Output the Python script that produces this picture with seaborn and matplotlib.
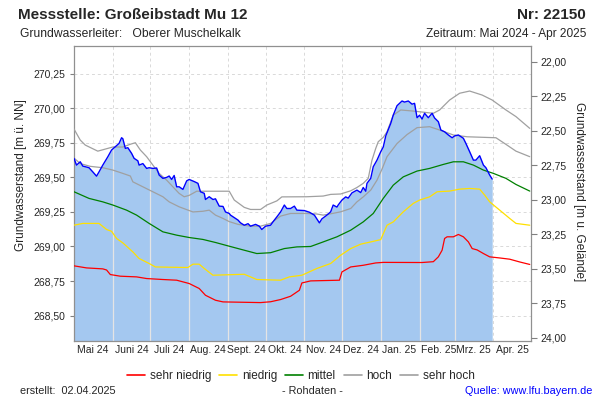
import pandas as pd
import numpy as np
import matplotlib.pyplot as plt
import matplotlib.dates as mdates
from matplotlib.ticker import FuncFormatter, MultipleLocator
from matplotlib.lines import Line2D
import seaborn as sns

# Messwerte (Rohdaten), Grundwasserstand in m ü. NN
mess_datum = [
    "2024-05-01", "2024-05-03", "2024-05-06", "2024-05-08", "2024-05-13", "2024-05-16",
    "2024-05-19", "2024-05-21", "2024-05-24", "2024-05-28", "2024-05-31", "2024-06-03",
    "2024-06-06", "2024-06-08", "2024-06-09", "2024-06-11", "2024-06-13", "2024-06-16",
    "2024-06-18", "2024-06-21", "2024-06-22", "2024-06-25", "2024-06-28", "2024-06-30",
    "2024-07-03", "2024-07-06", "2024-07-08", "2024-07-11", "2024-07-14", "2024-07-16",
    "2024-07-18", "2024-07-20", "2024-07-22", "2024-07-24", "2024-07-27", "2024-07-30",
    "2024-08-01", "2024-08-05", "2024-08-08", "2024-08-10", "2024-08-13", "2024-08-14",
    "2024-08-17", "2024-08-20", "2024-08-22", "2024-08-25", "2024-08-28", "2024-08-30",
    "2024-09-02", "2024-09-03", "2024-09-09", "2024-09-11", "2024-09-14", "2024-09-17",
    "2024-09-19", "2024-09-23", "2024-09-26", "2024-09-28", "2024-10-01", "2024-10-05",
    "2024-10-08", "2024-10-10", "2024-10-13", "2024-10-16", "2024-10-18", "2024-10-21",
    "2024-10-24", "2024-10-26", "2024-11-01", "2024-11-05", "2024-11-09", "2024-11-13",
    "2024-11-15", "2024-11-19", "2024-11-22", "2024-11-24", "2024-11-27", "2024-11-28",
    "2024-12-01", "2024-12-04", "2024-12-06", "2024-12-09", "2024-12-13", "2024-12-16",
    "2024-12-18", "2024-12-20", "2024-12-21", "2024-12-24", "2024-12-26", "2024-12-29",
    "2025-01-01", "2025-01-03", "2025-01-05", "2025-01-09", "2025-01-11", "2025-01-14",
    "2025-01-18", "2025-01-20", "2025-01-23", "2025-01-26", "2025-01-28", "2025-01-30",
    "2025-02-01", "2025-02-03", "2025-02-05", "2025-02-08", "2025-02-11", "2025-02-13",
    "2025-02-16", "2025-02-18", "2025-02-21", "2025-02-24", "2025-02-27", "2025-03-01",
    "2025-03-04", "2025-03-08", "2025-03-10", "2025-03-13", "2025-03-16", "2025-03-18",
    "2025-03-21", "2025-03-24", "2025-03-26", "2025-03-29", "2025-03-31",
]
mess_wert = [
    269.638, 269.589, 269.613, 269.582, 269.570, 269.540,
    269.509, 269.540, 269.589, 269.649, 269.698, 269.722,
    269.746, 269.787, 269.780, 269.710, 269.715, 269.674,
    269.638, 269.620, 269.589, 269.600, 269.565, 269.570,
    269.565, 269.568, 269.517, 269.493, 269.500, 269.510,
    269.485, 269.514, 269.432, 269.432, 269.413, 269.475,
    269.485, 269.470, 269.457, 269.396, 269.385, 269.340,
    269.360, 269.340, 269.345, 269.292, 269.290, 269.250,
    269.239, 269.227, 269.191, 269.171, 269.154, 269.165,
    269.147, 269.160, 269.147, 269.123, 269.147, 269.154,
    269.191, 269.214, 269.250, 269.300, 269.275, 269.275,
    269.292, 269.263, 269.260, 269.248, 269.227, 269.171,
    269.200, 269.227, 269.251, 269.300, 269.285, 269.300,
    269.336, 269.359, 269.350, 269.388, 269.408, 269.390,
    269.427, 269.400, 269.457, 269.493, 269.577, 269.625,
    269.686, 269.720, 269.800, 269.891, 269.951, 270.019,
    270.053, 270.045, 270.053, 270.030, 270.036, 269.932,
    269.950, 269.922, 269.964, 269.932, 269.964, 269.930,
    269.903, 269.843, 269.830, 269.807, 269.787, 269.800,
    269.807, 269.783, 269.746, 269.686, 269.625, 269.625,
    269.657, 269.589, 269.570, 269.517, 269.488,
]

# Statistik: sehr hoch
sh_datum = [
    "2024-05-01", "2024-05-06", "2024-05-10", "2024-05-20", "2024-05-24", "2024-06-01",
    "2024-06-09", "2024-06-15", "2024-06-19", "2024-06-23", "2024-06-28", "2024-07-03",
    "2024-07-08", "2024-07-14", "2024-07-19", "2024-07-24", "2024-07-28", "2024-08-01",
    "2024-08-07", "2024-09-02", "2024-09-06", "2024-09-14", "2024-09-19", "2024-09-27",
    "2024-10-02", "2024-10-10", "2024-10-14", "2024-11-03", "2024-11-16", "2024-11-22",
    "2024-11-30", "2024-12-08", "2024-12-13", "2024-12-18", "2024-12-22", "2024-12-25",
    "2024-12-28", "2024-12-30", "2025-01-03", "2025-01-06", "2025-01-11", "2025-01-17",
    "2025-01-27", "2025-02-12", "2025-02-17", "2025-02-25", "2025-03-05", "2025-03-13",
    "2025-03-23", "2025-03-31", "2025-04-11", "2025-04-19", "2025-04-30",
]
sh_wert = [
    269.850, 269.770, 269.734, 269.690, 269.700, 269.720,
    269.720, 269.740, 269.751, 269.698, 269.650, 269.589,
    269.529, 269.480, 269.432, 269.384, 269.360, 269.370,
    269.400, 269.400, 269.336, 269.283, 269.268, 269.268,
    269.300, 269.330, 269.359, 269.360, 269.365, 269.377,
    269.380, 269.403, 269.427, 269.457, 269.493, 269.625,
    269.710, 269.758, 269.790, 269.830, 269.951, 269.988,
    269.980, 269.964, 269.988, 270.060, 270.109, 270.125,
    270.096, 270.060, 269.988, 269.940, 269.855,
]

# Statistik: hoch
h_datum = [
    "2024-05-01", "2024-05-06", "2024-05-14", "2024-05-24", "2024-06-01", "2024-06-09",
    "2024-06-15", "2024-06-17", "2024-06-25", "2024-07-03", "2024-07-11", "2024-07-16",
    "2024-07-24", "2024-08-04", "2024-08-12", "2024-08-17", "2024-08-22", "2024-08-28",
    "2024-09-02", "2024-09-09", "2024-09-19", "2024-09-27", "2024-10-05", "2024-10-13",
    "2024-10-21", "2024-11-03", "2024-11-11", "2024-11-16", "2024-11-24", "2024-11-30",
    "2024-12-08", "2024-12-13", "2024-12-18", "2024-12-24", "2024-12-29", "2025-01-02",
    "2025-01-06", "2025-01-14", "2025-01-22", "2025-01-30", "2025-02-09", "2025-02-17",
    "2025-02-28", "2025-03-11", "2025-04-03", "2025-04-11", "2025-04-19", "2025-04-30",
]
h_wert = [
    269.640, 269.600, 269.580, 269.570, 269.553, 269.529,
    269.510, 269.468, 269.432, 269.396, 269.360, 269.323,
    269.287, 269.250, 269.255, 269.263, 269.227, 269.203,
    269.180, 269.160, 269.147, 269.147, 269.167, 269.220,
    269.239, 269.239, 269.235, 269.227, 269.240, 269.251,
    269.275, 269.323, 269.359, 269.408, 269.480, 269.560,
    269.650, 269.745, 269.810, 269.860, 269.867, 269.843,
    269.807, 269.794, 269.787, 269.739, 269.690, 269.650,
]

# Statistik: mittel
m_datum = [
    "2024-05-01", "2024-05-13", "2024-05-24", "2024-06-01", "2024-06-12", "2024-06-20",
    "2024-06-30", "2024-07-11", "2024-07-22", "2024-08-01", "2024-08-12", "2024-08-22",
    "2024-09-02", "2024-09-09", "2024-09-19", "2024-09-24", "2024-10-05", "2024-10-16",
    "2024-10-26", "2024-11-06", "2024-11-16", "2024-11-27", "2024-12-08", "2024-12-18",
    "2024-12-26", "2025-01-03", "2025-01-11", "2025-01-19", "2025-01-30", "2025-02-09",
    "2025-02-20", "2025-02-28", "2025-03-08", "2025-03-16", "2025-03-24", "2025-04-01",
    "2025-04-11", "2025-04-19", "2025-04-30",
]
m_wert = [
    269.396, 269.348, 269.323, 269.300, 269.263, 269.227,
    269.167, 269.106, 269.082, 269.065, 269.051, 269.029,
    269.002, 268.985, 268.961, 268.949, 268.955, 268.985,
    268.997, 269.000, 269.033, 269.070, 269.118, 269.178,
    269.239, 269.348, 269.444, 269.504, 269.546, 269.565,
    269.594, 269.613, 269.613, 269.589, 269.553, 269.529,
    269.493, 269.449, 269.401,
]

# Statistik: niedrig
n_datum = [
    "2024-05-01", "2024-05-08", "2024-05-21", "2024-05-27", "2024-05-31", "2024-06-04",
    "2024-06-09", "2024-06-17", "2024-06-22", "2024-06-30", "2024-07-05", "2024-07-16",
    "2024-07-31", "2024-08-04", "2024-08-09", "2024-08-13", "2024-08-20", "2024-09-14",
    "2024-09-24", "2024-10-13", "2024-10-20", "2024-10-30", "2024-11-11", "2024-11-22",
    "2024-11-30", "2024-12-08", "2024-12-16", "2024-12-24", "2025-01-01", "2025-01-06",
    "2025-01-11", "2025-01-19", "2025-01-27", "2025-02-01", "2025-02-09", "2025-02-15",
    "2025-02-25", "2025-03-05", "2025-03-13", "2025-03-21", "2025-03-25", "2025-03-29",
    "2025-04-06", "2025-04-14", "2025-04-19", "2025-04-30",
]
n_wert = [
    269.154, 269.167, 269.167, 269.123, 269.110, 269.058,
    269.026, 268.961, 268.913, 268.877, 268.852, 268.850,
    268.848, 268.872, 268.872, 268.841, 268.792, 268.799,
    268.761, 268.756, 268.780, 268.792, 268.841, 268.877,
    268.937, 268.985, 269.017, 269.033, 269.050, 269.154,
    269.178, 269.251, 269.312, 269.336, 269.359, 269.396,
    269.401, 269.415, 269.420, 269.415, 269.372, 269.323,
    269.263, 269.203, 269.167, 269.154,
]

# Statistik: sehr niedrig
sn_datum = [
    "2024-05-01", "2024-05-11", "2024-05-24", "2024-05-27", "2024-05-30", "2024-06-07",
    "2024-06-20", "2024-06-28", "2024-07-11", "2024-07-22", "2024-08-01", "2024-08-09",
    "2024-08-14", "2024-08-22", "2024-08-28", "2024-09-27", "2024-10-05", "2024-10-13",
    "2024-10-21", "2024-10-28", "2024-10-30", "2024-11-06", "2024-11-29", "2024-12-01",
    "2024-12-08", "2024-12-18", "2024-12-28", "2025-01-03", "2025-02-03", "2025-02-12",
    "2025-02-16", "2025-02-19", "2025-02-21", "2025-02-23", "2025-02-28", "2025-03-04",
    "2025-03-08", "2025-03-12", "2025-03-15", "2025-03-19", "2025-03-24", "2025-03-29",
    "2025-04-06", "2025-04-14", "2025-04-22", "2025-04-30",
]
sn_wert = [
    268.860, 268.845, 268.838, 268.830, 268.797, 268.785,
    268.780, 268.768, 268.761, 268.756, 268.732, 268.696,
    268.647, 268.611, 268.599, 268.594, 268.600, 268.616,
    268.640, 268.683, 268.736, 268.751, 268.756, 268.816,
    268.852, 268.864, 268.881, 268.885, 268.884, 268.890,
    268.925, 268.973, 269.058, 269.070, 269.070, 269.087,
    269.070, 269.033, 268.985, 268.975, 268.949, 268.925,
    268.917, 268.908, 268.888, 268.870,
]

monat_labels = ["Mai 24", "Juni 24", "Juli 24", "Aug. 24", "Sept. 24", "Okt. 24",
                "Nov. 24", "Dez. 24", "Jan. 25", "Feb. 25", "Mrz. 25", "Apr. 25"]

gelaende = 292.338  # Geländehöhe in m ü. NN

sns.set_style("white")
plt.rcParams['font.family'] = ['Liberation Sans', 'DejaVu Sans']

fig = plt.figure(figsize=(6, 4), dpi=100)
ax = fig.add_axes([74 / 600, 1 - 341 / 400, (531 - 74) / 600, (341 - 46) / 400])

x_mess = pd.to_datetime(mess_datum)
flaeche = ax.fill_between(x_mess, mess_wert, 268.0, color='#A4C8F0', lw=0, zorder=1)

stat = [
    (sn_datum, sn_wert, '#FF0000', 'sehr niedrig'),
    (n_datum, n_wert, '#FFE000', 'niedrig'),
    (m_datum, m_wert, '#008000', 'mittel'),
    (h_datum, h_wert, '#A0A0A0', 'hoch'),
    (sh_datum, sh_wert, '#A0A0A0', 'sehr hoch'),
]
for d, w, c, name in stat:
    sns.lineplot(x=pd.to_datetime(d), y=w, ax=ax, color=c, lw=0.9, zorder=3)

sns.lineplot(x=x_mess, y=mess_wert, ax=ax, color='#0000FF', lw=1.0, zorder=4)

# Achsen
start, ende = pd.Timestamp("2024-05-01"), pd.Timestamp("2025-05-01")
ax.set_xlim(start, ende)
ax.set_ylim(268.316, 270.451)
ax.set_xlabel("")
ax.set_ylabel("")

ax.yaxis.set_major_locator(MultipleLocator(0.25))
ax.yaxis.set_major_formatter(FuncFormatter(lambda v, p: f"{v:.2f}".replace('.', ',')))

ax.xaxis.set_major_locator(mdates.MonthLocator())
ax.xaxis.set_major_formatter(FuncFormatter(lambda v, p: ""))
mitte = pd.date_range("2024-05-01", periods=12, freq="MS") + pd.Timedelta(days=15)
ax.set_xticks(mitte, monat_labels, minor=True)
ax.tick_params(axis='x', which='minor', length=0, labelsize=7.5, pad=3)
ax.tick_params(axis='x', which='major', length=4, color='#808080')
ax.tick_params(axis='y', length=3, color='#808080', labelsize=7.5, pad=3)

ax.set_axisbelow(True)
ax.grid(True, which='major', ls=(0, (3, 3)), color='#d9d9d9', lw=0.7)
for spine in ax.spines.values():
    spine.set_color('#909090')
    spine.set_linewidth(0.9)

# Monatslinien innerhalb der Fläche
pfad = flaeche.get_paths()[0]
for monat in pd.date_range("2024-06-01", periods=11, freq="MS"):
    vl = ax.axvline(monat, color='#e4e4e4', lw=0.9, zorder=2)
    vl.set_clip_path(pfad, transform=ax.transData)

# rechte Achse: Flurabstand
ax2 = ax.twinx()
ax2.set_ylim(gelaende - 268.316, gelaende - 270.451)
ax2.yaxis.set_major_locator(MultipleLocator(0.25))
ax2.yaxis.set_major_formatter(FuncFormatter(lambda v, p: f"{v:.2f}".replace('.', ',')))
ax2.tick_params(axis='y', length=4, color='#808080', labelsize=7.5, pad=3)
for spine in ax2.spines.values():
    spine.set_visible(False)

fig.text(21 / 600, 1 - 175 / 400, "Grundwasserstand [m ü. NN]", rotation=90,
         ha='center', va='center', fontsize=8.5)
fig.text(579 / 600, 1 - 192 / 400, "Grundwasserstand [m u. Gelände]", rotation=-90,
         ha='center', va='center', fontsize=8.5)

# Kopf
fig.text(18 / 600, 1 - 15 / 400, "Messstelle: Großeibstadt Mu 12", fontsize=11,
         fontweight='bold', ha='left', va='center')
fig.text(586 / 600, 1 - 15 / 400, "Nr: 22150", fontsize=11, fontweight='bold',
         ha='right', va='center')
fig.text(20 / 600, 1 - 34 / 400, "Grundwasserleiter:   Oberer Muschelkalk", fontsize=8.7,
         ha='left', va='center')
fig.text(586 / 600, 1 - 34 / 400, "Zeitraum: Mai 2024 - Apr 2025", fontsize=8.6,
         ha='right', va='center')

# Legende
handles = [Line2D([], [], color=c, lw=1.2) for _, _, c, _ in stat]
labels = [name for _, _, _, name in stat]
fig.legend(handles, labels, loc='center', bbox_to_anchor=(301 / 600, 1 - 376 / 400),
           ncol=5, frameon=False, fontsize=8.5, handlelength=1.5, handletextpad=0.4,
           columnspacing=0.7)

# Fuß
fig.text(20 / 600, 1 - 391 / 400, "erstellt:  02.04.2025", fontsize=7.8, ha='left', va='center')
fig.text(312 / 600, 1 - 391 / 400, "- Rohdaten -", fontsize=7.8, ha='center', va='center')
fig.text(592 / 600, 1 - 391 / 400, "Quelle: www.lfu.bayern.de", fontsize=7.8, ha='right',
         va='center', color='#0000FF')

fig.savefig("out.png", dpi=100)
